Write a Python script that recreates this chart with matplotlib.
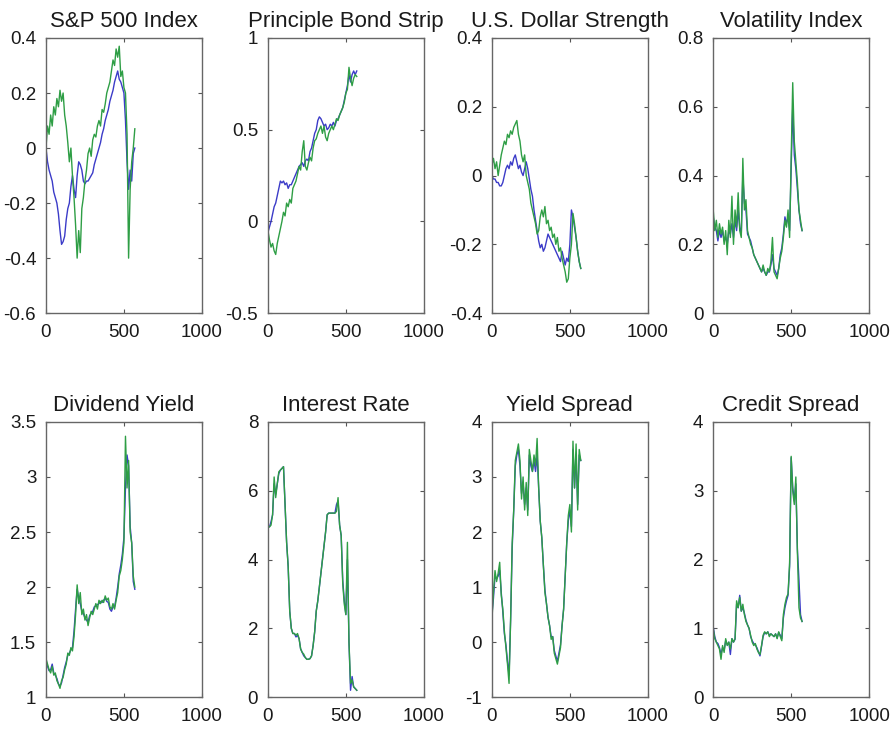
import matplotlib
matplotlib.use("Agg")
import matplotlib.pyplot as plt
import numpy as np

plt.rcParams['font.family'] = ['Liberation Sans', 'DejaVu Sans']
plt.rcParams['axes.unicode_minus'] = False

# common time axis (observation index)
t = list(range(0, 580, 10))

titles = ["S&P 500 Index", "Principle Bond Strip", "U.S. Dollar Strength", "Volatility Index",
          "Dividend Yield", "Interest Rate", "Yield Spread", "Credit Spread"]

sp_blue = [0.00, -0.05, -0.08, -0.10, -0.12, -0.16, -0.18, -0.20, -0.24, -0.30,
           -0.35, -0.34, -0.32, -0.26, -0.22, -0.20, -0.14, -0.10, -0.15, -0.18,
           -0.10, -0.05, -0.06, -0.08, -0.12, -0.13, -0.12, -0.12, -0.11, -0.10,
           -0.09, -0.06, -0.04, -0.02, 0.00, 0.02, 0.05, 0.07, 0.10, 0.12,
           0.14, 0.17, 0.19, 0.21, 0.24, 0.26, 0.28, 0.25, 0.24, 0.22,
           0.20, 0.10, -0.05, -0.15, -0.08, -0.12, -0.02, 0.00]
sp_green = [0.00, 0.08, 0.05, 0.12, 0.08, 0.15, 0.12, 0.18, 0.15, 0.21,
            0.17, 0.20, 0.12, 0.08, 0.02, -0.05, 0.00, -0.10, -0.18, -0.28,
            -0.40, -0.30, -0.38, -0.22, -0.18, -0.12, -0.08, -0.02, 0.00, -0.03,
            0.03, 0.05, 0.04, 0.08, 0.10, 0.08, 0.14, 0.13, 0.16, 0.20,
            0.22, 0.24, 0.28, 0.32, 0.30, 0.36, 0.33, 0.37, 0.26, 0.28,
            0.22, 0.20, 0.05, -0.40, -0.15, -0.05, 0.00, 0.07]

bond_blue = [-0.06, -0.03, 0.00, 0.04, 0.08, 0.10, 0.14, 0.18, 0.22, 0.21,
             0.22, 0.20, 0.21, 0.18, 0.20, 0.20, 0.22, 0.24, 0.26, 0.28,
             0.30, 0.31, 0.32, 0.30, 0.33, 0.34, 0.33, 0.38, 0.40, 0.44,
             0.48, 0.50, 0.55, 0.57, 0.56, 0.54, 0.52, 0.53, 0.50, 0.51,
             0.53, 0.52, 0.54, 0.52, 0.55, 0.56, 0.58, 0.60, 0.62, 0.66,
             0.70, 0.74, 0.80, 0.76, 0.80, 0.82, 0.80, 0.82]
bond_green = [-0.05, -0.10, -0.14, -0.12, -0.16, -0.18, -0.12, -0.08, -0.04, 0.00,
              0.05, 0.03, 0.10, 0.08, 0.12, 0.10, 0.18, 0.20, 0.22, 0.26,
              0.30, 0.28, 0.38, 0.44, 0.30, 0.28, 0.32, 0.35, 0.33, 0.40,
              0.44, 0.45, 0.48, 0.50, 0.52, 0.48, 0.52, 0.46, 0.44, 0.48,
              0.50, 0.52, 0.50, 0.53, 0.56, 0.55, 0.58, 0.60, 0.62, 0.65,
              0.70, 0.72, 0.84, 0.78, 0.74, 0.78, 0.80, 0.79]

usd_blue = [0.00, -0.01, -0.01, -0.02, -0.02, -0.03, -0.03, -0.02, 0.00, 0.02,
            0.03, 0.02, 0.04, 0.03, 0.05, 0.06, 0.04, 0.02, 0.03, 0.01,
            0.00, 0.02, 0.04, 0.02, -0.01, -0.04, -0.06, -0.10, -0.13, -0.16,
            -0.19, -0.21, -0.20, -0.22, -0.21, -0.19, -0.17, -0.18, -0.19, -0.20,
            -0.21, -0.22, -0.23, -0.24, -0.25, -0.22, -0.24, -0.26, -0.24, -0.25,
            -0.20, -0.10, -0.12, -0.15, -0.18, -0.22, -0.25, -0.27]
usd_green = [0.03, 0.05, 0.02, 0.04, 0.00, 0.03, 0.06, 0.08, 0.10, 0.09,
             0.12, 0.11, 0.13, 0.12, 0.14, 0.15, 0.16, 0.12, 0.10, 0.06,
             0.04, 0.06, 0.00, -0.02, -0.04, -0.08, -0.10, -0.12, -0.14, -0.17,
             -0.16, -0.12, -0.10, -0.12, -0.09, -0.14, -0.13, -0.16, -0.15, -0.18,
             -0.17, -0.20, -0.18, -0.22, -0.21, -0.24, -0.26, -0.28, -0.31, -0.30,
             -0.24, -0.20, -0.11, -0.14, -0.18, -0.22, -0.25, -0.27]

vol_blue = [0.28, 0.25, 0.24, 0.21, 0.24, 0.22, 0.24, 0.21, 0.22, 0.20,
            0.24, 0.23, 0.26, 0.22, 0.27, 0.24, 0.30, 0.25, 0.23, 0.40,
            0.32, 0.30, 0.23, 0.22, 0.21, 0.19, 0.17, 0.16, 0.15, 0.14,
            0.13, 0.12, 0.13, 0.12, 0.11, 0.12, 0.12, 0.14, 0.17, 0.13,
            0.12, 0.11, 0.13, 0.17, 0.19, 0.23, 0.28, 0.26, 0.28, 0.24,
            0.42, 0.60, 0.46, 0.42, 0.36, 0.30, 0.26, 0.24]
vol_green = [0.30, 0.24, 0.27, 0.22, 0.26, 0.23, 0.25, 0.20, 0.24, 0.17,
             0.27, 0.22, 0.34, 0.20, 0.30, 0.25, 0.35, 0.24, 0.22, 0.45,
             0.30, 0.33, 0.24, 0.22, 0.20, 0.19, 0.17, 0.16, 0.15, 0.14,
             0.13, 0.12, 0.14, 0.12, 0.11, 0.13, 0.12, 0.15, 0.22, 0.12,
             0.11, 0.10, 0.13, 0.16, 0.18, 0.22, 0.27, 0.25, 0.30, 0.22,
             0.45, 0.67, 0.50, 0.44, 0.38, 0.30, 0.27, 0.24]

div_blue = [1.33, 1.28, 1.24, 1.25, 1.30, 1.22, 1.20, 1.17, 1.12, 1.10,
            1.13, 1.20, 1.27, 1.32, 1.38, 1.40, 1.43, 1.45, 1.60, 1.80,
            1.98, 1.90, 1.85, 1.78, 1.76, 1.72, 1.70, 1.68, 1.74, 1.76,
            1.78, 1.82, 1.83, 1.84, 1.85, 1.87, 1.86, 1.88, 1.90, 1.87,
            1.86, 1.80, 1.78, 1.82, 1.82, 1.90, 2.00, 2.12, 2.20, 2.30,
            2.45, 2.90, 3.20, 3.10, 2.55, 2.40, 2.05, 1.98]
div_green = [1.35, 1.30, 1.25, 1.22, 1.28, 1.20, 1.22, 1.15, 1.12, 1.08,
             1.15, 1.18, 1.25, 1.30, 1.40, 1.38, 1.45, 1.42, 1.55, 1.75,
             2.02, 1.85, 1.95, 1.75, 1.80, 1.70, 1.75, 1.65, 1.72, 1.78,
             1.75, 1.80, 1.85, 1.80, 1.88, 1.85, 1.88, 1.86, 1.92, 1.88,
             1.90, 1.82, 1.80, 1.85, 1.80, 1.88, 1.95, 2.10, 2.15, 2.25,
             2.40, 3.37, 2.90, 3.15, 2.50, 2.40, 2.10, 2.00]

rate_blue = [4.95, 4.95, 5.10, 5.30, 6.20, 5.90, 6.20, 6.50, 6.60, 6.65,
             6.70, 5.60, 4.50, 3.80, 2.50, 2.00, 1.85, 1.85, 1.75, 1.80,
             1.70, 1.40, 1.30, 1.20, 1.15, 1.10, 1.10, 1.12, 1.20, 1.50,
             1.90, 2.50, 2.80, 3.20, 3.60, 4.00, 4.40, 4.80, 5.30, 5.35,
             5.35, 5.35, 5.35, 5.35, 5.60, 5.70, 5.00, 4.70, 3.40, 2.80,
             2.40, 4.00, 1.60, 0.20, 0.60, 0.30, 0.25, 0.20]
rate_green = [4.95, 4.95, 5.00, 5.30, 6.40, 5.80, 6.20, 6.55, 6.60, 6.65,
              6.70, 5.60, 4.50, 3.80, 2.50, 2.00, 1.85, 1.85, 1.80, 1.85,
              1.70, 1.40, 1.30, 1.25, 1.15, 1.10, 1.10, 1.12, 1.20, 1.50,
              1.90, 2.50, 2.80, 3.20, 3.60, 4.00, 4.40, 4.80, 5.30, 5.35,
              5.35, 5.35, 5.35, 5.35, 5.40, 5.80, 5.00, 4.70, 3.30, 2.70,
              2.40, 4.50, 1.60, 0.40, 0.50, 0.30, 0.25, 0.20]

ys_blue = [0.50, 0.80, 1.20, 1.15, 1.20, 1.30, 0.90, 0.55, 0.15, -0.05,
           -0.35, -0.60, 0.40, 1.70, 2.40, 3.20, 3.40, 3.50, 3.20, 2.70,
           2.90, 2.50, 2.80, 2.40, 3.40, 3.20, 3.10, 3.30, 3.10, 3.40,
           2.80, 2.20, 1.90, 1.40, 0.95, 0.70, 0.45, 0.30, 0.10, 0.10,
           -0.15, -0.25, -0.35, -0.20, -0.05, 0.30, 0.60, 1.20, 1.80, 2.20,
           2.40, 2.10, 3.50, 2.80, 3.40, 2.50, 3.40, 3.30]
ys_green = [0.40, 0.90, 1.30, 1.10, 1.25, 1.45, 0.85, 0.60, 0.20, -0.10,
            -0.40, -0.75, 0.40, 1.80, 2.40, 3.30, 3.45, 3.60, 3.30, 2.60,
            3.00, 2.40, 2.90, 2.30, 3.50, 3.30, 3.10, 3.40, 3.20, 3.70,
            2.80, 2.20, 1.90, 1.40, 0.90, 0.70, 0.45, 0.30, 0.05, 0.10,
            -0.20, -0.30, -0.40, -0.25, -0.10, 0.30, 0.60, 1.20, 1.80, 2.30,
            2.50, 2.00, 3.65, 2.80, 3.60, 2.40, 3.50, 3.30]

cs_blue = [1.02, 0.88, 0.80, 0.78, 0.72, 0.62, 0.72, 0.68, 0.82, 0.76,
           0.80, 0.62, 0.85, 0.80, 0.84, 1.35, 1.30, 1.48, 1.25, 1.30,
           1.22, 1.12, 1.05, 1.00, 0.88, 0.82, 0.78, 0.76, 0.72, 0.66,
           0.60, 0.74, 0.88, 0.94, 0.92, 0.95, 0.90, 0.92, 0.90, 0.88,
           0.92, 0.86, 0.94, 0.90, 0.85, 1.15, 1.30, 1.40, 1.48, 1.90,
           3.48, 3.05, 2.85, 3.10, 2.15, 1.70, 1.20, 1.10]
cs_green = [1.00, 0.85, 0.80, 0.75, 0.70, 0.55, 0.75, 0.65, 0.85, 0.75,
            0.80, 0.70, 0.85, 0.80, 0.85, 1.40, 1.30, 1.45, 1.25, 1.35,
            1.20, 1.10, 1.05, 1.00, 0.90, 0.80, 0.75, 0.78, 0.70, 0.65,
            0.62, 0.75, 0.90, 0.95, 0.92, 0.95, 0.88, 0.92, 0.90, 0.88,
            0.92, 0.85, 0.95, 0.88, 0.82, 1.20, 1.35, 1.45, 1.50, 1.95,
            3.50, 3.00, 2.80, 3.20, 2.10, 1.30, 1.15, 1.10]

blue_series = [sp_blue, bond_blue, usd_blue, vol_blue, div_blue, rate_blue, ys_blue, cs_blue]
green_series = [sp_green, bond_green, usd_green, vol_green, div_green, rate_green, ys_green, cs_green]

ylims = [(-0.6, 0.4), (-0.5, 1), (-0.4, 0.4), (0, 0.8), (1, 3.5), (0, 8), (-1, 4), (0, 4)]
yticks = [[-0.6, -0.4, -0.2, 0, 0.2, 0.4], [-0.5, 0, 0.5, 1], [-0.4, -0.2, 0, 0.2, 0.4],
          [0, 0.2, 0.4, 0.6, 0.8], [1, 1.5, 2, 2.5, 3, 3.5], [0, 2, 4, 6, 8],
          [-1, 0, 1, 2, 3, 4], [0, 1, 2, 3, 4]]
xticks = [0, 500, 1000]

fig = plt.figure(figsize=(8.96, 7.30), dpi=100)
lefts = [0.0513, 0.299, 0.549, 0.796]
bottoms = [0.571, 0.045]

for i in range(8):
    row, col = divmod(i, 4)
    ax = fig.add_axes([lefts[col], bottoms[row], 0.174, 0.377])
    ax.plot(t, blue_series[i], color='#3b3bc8', lw=1.0)
    ax.plot(t, green_series[i], color='#2e9e45', lw=1.0)
    ax.set_xlim(0, 1000)
    ax.set_ylim(*ylims[i])
    ax.set_xticks(xticks)
    ax.set_xticklabels([str(v) for v in xticks])
    ax.set_yticks(yticks[i])
    ax.set_yticklabels(['%g' % v for v in yticks[i]])
    ax.tick_params(direction='in', length=3, width=0.8, top=True, right=True,
                   labelsize=13.5, colors='#555555', labelcolor='#1a1a1a')
    ax.tick_params(axis='y', pad=7)
    ax.tick_params(axis='x', pad=8)
    for s in ax.spines.values():
        s.set_color('#666666')
        s.set_linewidth(1.0)
    ax.set_title(titles[i], fontsize=16, color='#1a1a1a', pad=8)

fig.savefig('out.png', dpi=100)
